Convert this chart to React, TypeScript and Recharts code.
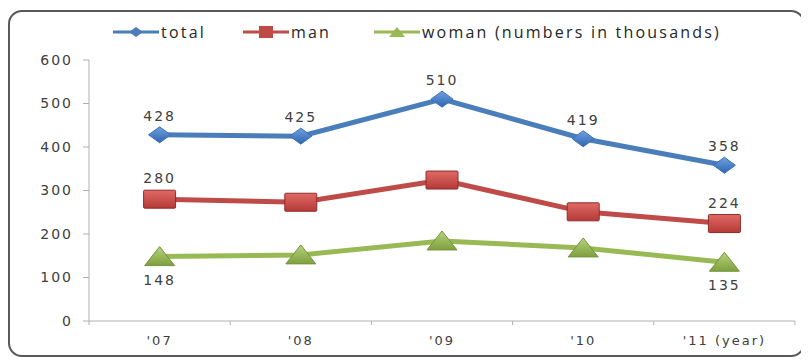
import React from "react";
import { LineChart, Line, XAxis, YAxis, LabelList } from "recharts";

const years = ["'07", "'08", "'09", "'10", "'11"];
const total = [428, 425, 510, 419, 358];
const man = [280, 273, 324, 251, 224];
const woman = [148, 152, 184, 168, 135];
// which points carry a value label
const manLabeled = [true, false, false, false, true];
const womanLabeled = [true, false, false, false, true];
const yTicks = [0, 100, 200, 300, 400, 500, 600];

const BLUE = "#4a7ebb";
const RED = "#be4b48";
const GREEN = "#98b954";
const TEXT = "#404040";
const AXIS = "#b0b0b0";
const LABEL_FONT = "'DejaVu Sans', Verdana, sans-serif";

const data = years.map((y, i) => ({
  year: y,
  total: total[i],
  man: man[i],
  woman: woman[i],
  manLabel: manLabeled[i] ? man[i] : null,
  womanLabel: womanLabeled[i] ? woman[i] : null,
}));

const CHART_W = 793;
const CHART_H = 343;
const MARGIN = { top: 48, right: 8, left: 0, bottom: 0 };
const Y_AXIS_W = 79;
const BAND = (CHART_W - MARGIN.left - MARGIN.right - Y_AXIS_W) / years.length;

const labelStyle = {
  fill: TEXT,
  fontSize: 14,
  fontFamily: LABEL_FONT,
  letterSpacing: 2,
};

const Diamond = ({ cx, cy }: any) => (
  <g>
    <defs>
      <linearGradient id="dg" x1="0" y1="0" x2="0" y2="1">
        <stop offset="0" stopColor="#6fa0e0" />
        <stop offset="1" stopColor="#2f66b0" />
      </linearGradient>
    </defs>
    <polygon
      points={`${cx - 11},${cy} ${cx},${cy - 8} ${cx + 11},${cy} ${cx},${cy + 8}`}
      fill="url(#dg)"
      stroke="#3a6fb5"
      strokeWidth={1}
    />
  </g>
);

const Square = ({ cx, cy }: any) => (
  <g>
    <defs>
      <linearGradient id="sg" x1="0" y1="0" x2="0" y2="1">
        <stop offset="0" stopColor="#e06a66" />
        <stop offset="1" stopColor="#b53a36" />
      </linearGradient>
    </defs>
    <rect x={cx - 16} y={cy - 9} width={32} height={18} fill="url(#sg)" stroke="#8f2c2a" strokeWidth={1} rx={1} />
  </g>
);

const Triangle = ({ cx, cy }: any) => (
  <g>
    <defs>
      <linearGradient id="tg" x1="0" y1="0" x2="0" y2="1">
        <stop offset="0" stopColor="#b6d37a" />
        <stop offset="1" stopColor="#7f9f3f" />
      </linearGradient>
    </defs>
    <polygon
      points={`${cx - 15},${cy + 9} ${cx},${cy - 10} ${cx + 15},${cy + 9}`}
      fill="url(#tg)"
      stroke="#76933c"
      strokeWidth={1}
    />
  </g>
);

const YearTick = ({ x, y, payload, index }: any) => {
  const last = index === years.length - 1;
  return (
    <g>
      <line x1={x - BAND / 2} y1={y - 8} x2={x - BAND / 2} y2={y - 4} stroke={AXIS} />
      {last && <line x1={x + BAND / 2} y1={y - 8} x2={x + BAND / 2} y2={y - 4} stroke={AXIS} />}
      <text x={x} y={y + 16} textAnchor="middle" {...labelStyle} fontSize={13}>
        {last ? `${payload.value}\u00a0(year)` : payload.value}
      </text>
    </g>
  );
};

const LegendItem = ({ color, marker, label, left }: any) => (
  <div style={{ position: "absolute", left, top: 0, display: "flex", alignItems: "center", whiteSpace: "nowrap" }}>
    <svg width={46} height={20}>
      <line x1={0} y1={10} x2={46} y2={10} stroke={color} strokeWidth={3} />
      {marker}
    </svg>
    <span style={{ marginLeft: 2 }}>{label}</span>
  </div>
);

export default function App() {
  return (
    <div
      style={{
        position: "relative",
        marginTop: 2,
        width: 797,
        height: 347,
        boxSizing: "border-box",
        border: "2px solid #595959",
        borderRadius: 14,
        background: "#fff",
      }}
    >
      <div
        style={{
          position: "absolute",
          top: 9,
          left: 0,
          width: "100%",
          height: 22,
          fontFamily: "'Open Sans', sans-serif",
          fontSize: 16,
          letterSpacing: 2.2,
          color: "#262626",
        }}
      >
        <LegendItem
          left={103}
          color={BLUE}
          label="total"
          marker={<polygon points="16,10 23,5 30,10 23,15" fill={BLUE} />}
        />
        <LegendItem
          left={233}
          color={RED}
          label="man"
          marker={<rect x={16} y={4} width={14} height={12} fill={RED} />}
        />
        <LegendItem
          left={364}
          color={GREEN}
          label="woman (numbers in thousands)"
          marker={<polygon points="15,15 23,5 31,15" fill={GREEN} />}
        />
      </div>
      <LineChart width={CHART_W} height={CHART_H} data={data} margin={MARGIN}>
        <XAxis
          dataKey="year"
          scale="band"
          height={34}
          stroke={AXIS}
          tickLine={false}
          tick={<YearTick />}
          interval={0}
        />
        <YAxis
          width={Y_AXIS_W}
          domain={[0, 600]}
          ticks={yTicks}
          stroke={AXIS}
          tickSize={6}
          tickMargin={10}
          tick={labelStyle}
        />
        <Line
          dataKey="woman"
          stroke={GREEN}
          strokeWidth={5}
          dot={<Triangle />}
          isAnimationActive={false}
        >
          <LabelList dataKey="womanLabel" position="bottom" offset={18} {...labelStyle} />
        </Line>
        <Line
          dataKey="man"
          stroke={RED}
          strokeWidth={5}
          dot={<Square />}
          isAnimationActive={false}
        >
          <LabelList dataKey="manLabel" position="top" offset={16} {...labelStyle} />
        </Line>
        <Line
          dataKey="total"
          stroke={BLUE}
          strokeWidth={5}
          dot={<Diamond />}
          isAnimationActive={false}
        >
          <LabelList dataKey="total" position="top" offset={14} {...labelStyle} />
        </Line>
      </LineChart>
    </div>
  );
}
